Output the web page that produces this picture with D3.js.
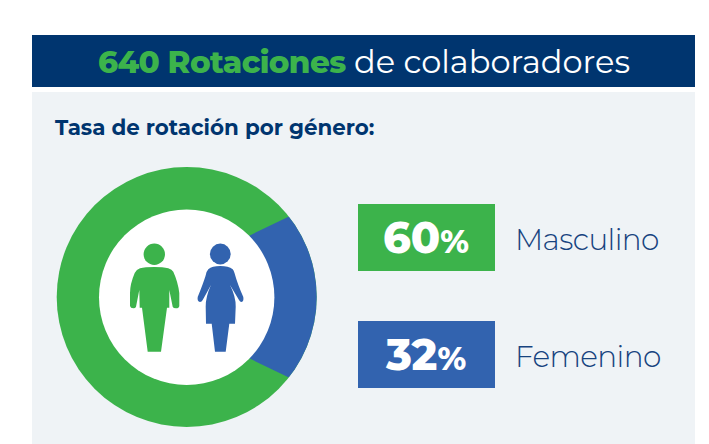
<!DOCTYPE html>
<html><head><meta charset="utf-8"><script src="https://cdn.jsdelivr.net/npm/d3@7"></script>
<style>html,body{margin:0;background:#fff}svg{display:block}text{font-family:"Montserrat","Open Sans","Noto Sans",sans-serif}</style></head>
<body><svg id="c" width="709" height="444"></svg>
<script>
const categories=["Masculino","Femenino"];
const displayValues=[60,32];
const wedgeShares=[0.857,0.143];
const colors=["#3cb34b","#3263af"];
const svg=d3.select("#c");
svg.append("rect").attr("x",32).attr("y",92).attr("width",663).attr("height",352).attr("fill","#eff3f6");
svg.append("rect").attr("x",32).attr("y",35).attr("width",663).attr("height",52).attr("fill","#00356f");
svg.append("text").attr("x",98).attr("y",73).attr("font-size",31).attr("font-weight",800).attr("letter-spacing",-0.62).attr("fill",colors[0]).text("640 Rotaciones");
svg.append("text").attr("x",354).attr("y",73).attr("font-size",32).attr("font-weight",400).attr("fill","#fff").text("de colaboradores");
svg.append("text").attr("x",55).attr("y",135).attr("font-size",21.4).attr("font-weight",700).attr("fill","#00356f").text("Tasa de rotación por género:");
const cx=186.7,cy=297,ro=130,ri=87.7,apexX=122;
const defs=svg.append("defs");
defs.append("clipPath").attr("id","disc").append("circle").attr("cx",cx).attr("cy",cy).attr("r",ro);
svg.append("circle").attr("cx",cx).attr("cy",cy).attr("r",ro).attr("fill",colors[0]);
const half=Math.PI*wedgeShares[1];
const pie=d3.pie().sort(null).startAngle(Math.PI/2-half).endAngle(Math.PI*2.5-half);
svg.append("g").attr("clip-path","url(#disc)").append("g").attr("transform",`translate(${apexX},${cy})`)
 .selectAll("path").data(pie(wedgeShares.slice().reverse()).slice(0,1)).join("path")
 .attr("d",d3.arc().innerRadius(0).outerRadius(300)).attr("fill",colors[1]);
svg.append("circle").attr("cx",cx).attr("cy",cy+0.3).attr("r",ri).attr("fill","#fff");
const male=svg.append("g").attr("fill",colors[0]);
male.append("circle").attr("cx",154.3).attr("cy",254.3).attr("r",10.7);
male.append("path").attr("d","M154.3 267 Q145 267 140 268.3 Q136.5 269.5 134.7 273 Q130 284 130 293 L130 306 Q130.5 308.3 133.3 308.3 Q135.5 308.3 136 306.7 L139.3 290 L139.7 307.7 L142 307.7 L147.7 351.7 L161 351.7 L167 307.7 L169.3 307.7 L169.3 290 L172.7 306.7 Q173.3 308.3 176 308.3 Q179 308.3 179.3 306 L179.3 293 Q178 282 173.3 271.7 Q172 269.5 168.3 268.3 Q163 267 154.3 267Z");
const female=svg.append("g").attr("fill",colors[1]);
female.append("circle").attr("cx",220.3).attr("cy",254).attr("r",10.4);
female.append("path").attr("d","M220.3 266 Q212 266 208.3 269.3 Q206.5 271 205.5 276 Q203 284 197.7 297 Q197 301.5 200 302 Q201.7 302 202.7 300 L211 285 Q205.5 297 205.7 306.7 L206 323.7 L211.7 323.7 L215 351.7 L225.7 351.7 L229.3 323.7 L235 323.7 L235.7 306.7 Q236 297 230 285 L239 300 Q240 302 241.5 302 Q244 301.5 243.3 297 Q237.5 284 234.5 273 Q233.5 270 232.7 269.3 Q228.5 266 220.3 266Z");
const ys=[204,321];
categories.forEach((c,i)=>{
 svg.append("rect").attr("x",358).attr("y",ys[i]).attr("width",137).attr("height",67).attr("fill",colors[i]);
 const v=svg.append("text").attr("x",426).attr("y",ys[i]+49).attr("text-anchor","middle").attr("fill","#fff").attr("font-weight",800);
 v.append("tspan").attr("font-size",43).text(displayValues[i]);
 v.append("tspan").attr("font-size",32).text("%");
 svg.append("text").attr("x",515).attr("y",ys[i]+46).attr("font-size",29.5).attr("font-weight",300).attr("letter-spacing",-0.6).attr("fill","#17437f").text(c);
});
</script></body></html>
